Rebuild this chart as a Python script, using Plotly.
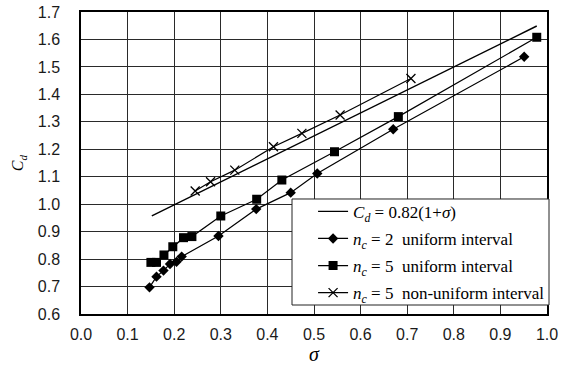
import plotly.graph_objects as go

# Formula line (read endpoints)
formula_sigma = [0.152, 0.978]
formula_cd = [0.957, 1.649]

# n_c = 2 uniform interval (diamonds)
nc2_sigma = [0.147, 0.162, 0.177, 0.191, 0.205, 0.216, 0.295, 0.376, 0.450, 0.507, 0.670, 0.951]
nc2_cd = [0.697, 0.736, 0.758, 0.782, 0.790, 0.809, 0.884, 0.982, 1.042, 1.112, 1.273, 1.537]

# n_c = 5 uniform interval (squares)
nc5u_sigma = [0.150, 0.162, 0.178, 0.197, 0.220, 0.238, 0.300, 0.377, 0.431, 0.544, 0.681, 0.978]
nc5u_cd = [0.788, 0.788, 0.815, 0.845, 0.878, 0.882, 0.957, 1.018, 1.088, 1.191, 1.319, 1.608]

# n_c = 5 non-uniform interval (crosses)
nc5n_sigma = [0.245, 0.278, 0.330, 0.413, 0.474, 0.556, 0.708]
nc5n_cd = [1.048, 1.082, 1.124, 1.209, 1.258, 1.325, 1.458]

x_ticks = [0.0, 0.1, 0.2, 0.3, 0.4, 0.5, 0.6, 0.7, 0.8, 0.9, 1.0]
y_ticks = [0.6, 0.7, 0.8, 0.9, 1.0, 1.1, 1.2, 1.3, 1.4, 1.5, 1.6, 1.7]

fig = go.Figure()
fig.add_trace(go.Scatter(
    x=formula_sigma, y=formula_cd, mode="lines",
    line=dict(color="black", width=1.4),
    name="<i>C<sub>d</sub></i> = 0.82(1+<i>σ</i>)", legendgroup="a"))
fig.add_trace(go.Scatter(
    x=nc2_sigma, y=nc2_cd, mode="lines+markers",
    line=dict(color="black", width=1.2),
    marker=dict(symbol="diamond", size=8, color="black"),
    name="<i>n<sub>c</sub></i> = 2  uniform interval", legendgroup="b"))
fig.add_trace(go.Scatter(
    x=nc5u_sigma, y=nc5u_cd, mode="lines+markers",
    line=dict(color="black", width=1.2),
    marker=dict(symbol="square", size=9, color="black"),
    name="<i>n<sub>c</sub></i> = 5  uniform interval", legendgroup="c"))
fig.add_trace(go.Scatter(
    x=nc5n_sigma, y=nc5n_cd, mode="lines+markers",
    line=dict(color="black", width=1.2),
    marker=dict(symbol="x-thin", size=9, color="black", line=dict(color="black", width=1.3)),
    name="<i>n<sub>c</sub></i> = 5  non-uniform interval", legendgroup="d"))

axis_common = dict(
    showgrid=True, gridcolor="#2a2a2a", gridwidth=1,
    showline=True, linecolor="black", linewidth=1.5, mirror=True,
    zeroline=False, ticks="", automargin=False,
    tickfont=dict(family="Liberation Sans, Arial, sans-serif", size=16, color="#1a1a1a"),
)

fig.update_xaxes(
    range=[0, 1.0], tickvals=x_ticks, ticktext=[f"{v:.1f}" for v in x_ticks],
    title=dict(text="<i>σ</i>", font=dict(family="Liberation Serif, Times New Roman, serif", size=20, color="black"), standoff=5),
    ticklabelstandoff=5, **axis_common)
fig.update_yaxes(
    range=[0.6, 1.7], tickvals=y_ticks, ticktext=[f"{v:.1f}" for v in y_ticks],
    title=dict(text="<i>C<sub>d</sub></i>", font=dict(family="Liberation Serif, Times New Roman, serif", size=16, color="black"), standoff=10),
    ticklabelstandoff=16, **axis_common)

# legend frame (reference box extends slightly past the plot edge)
fig.add_shape(type="rect", xref="paper", yref="paper",
              x0=0.4528, x1=1.0043, y0=0.0298, y1=0.3808,
              line=dict(color="#222", width=1), fillcolor="white", layer="above")

fig.update_layout(
    width=569, height=366,
    margin=dict(l=81, r=22, t=12, b=52),
    paper_bgcolor="white", plot_bgcolor="white",
    showlegend=True,
    legend=dict(
        x=0.498, y=0.398, xanchor="left", yanchor="top",
        bgcolor="rgba(0,0,0,0)", borderwidth=0,
        font=dict(family="Liberation Serif, Times New Roman, serif", size=17, color="black"),
        tracegroupgap=2, itemwidth=30,
    ),
)

fig.write_html("out.html", config={"displayModeBar": False},
               post_script="document.body.style.margin='0px';")
